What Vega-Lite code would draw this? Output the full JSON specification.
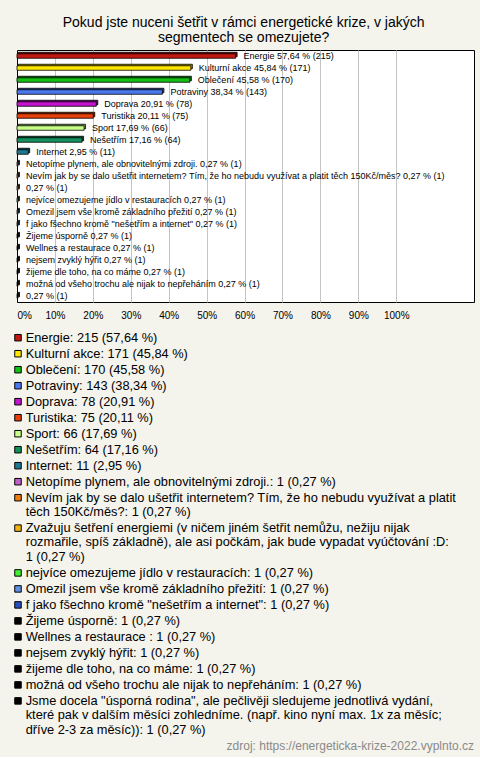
{
  "$schema": "https://vega.github.io/schema/vega-lite/v6.json",
  "background": "#f4f3ec",
  "padding": {"left": 12, "right": 11, "top": 15, "bottom": 5},
  "config": {"font": "Liberation Sans"},
  "title": {
    "text": ["Pokud jste nuceni šetřit v rámci energetické krize, v jakých", "segmentech se omezujete?"],
    "fontSize": 14, "fontWeight": "normal", "font": "Liberation Sans", "color": "#000000",
    "anchor": "middle", "lineHeight": 15, "offset": 5
  },
  "data": {"values": [
    {"name": "Energie", "count": 215, "pct": 0.5764},
    {"name": "Kulturní akce", "count": 171, "pct": 0.4584},
    {"name": "Oblečení", "count": 170, "pct": 0.4558},
    {"name": "Potraviny", "count": 143, "pct": 0.3834},
    {"name": "Doprava", "count": 78, "pct": 0.2091},
    {"name": "Turistika", "count": 75, "pct": 0.2011},
    {"name": "Sport", "count": 66, "pct": 0.1769},
    {"name": "Nešetřím", "count": 64, "pct": 0.1716},
    {"name": "Internet", "count": 11, "pct": 0.0295},
    {"name": "Netopíme plynem, ale obnovitelnými zdroji.", "count": 1, "pct": 0.0027},
    {"name": "Nevím jak by se dalo ušetřit internetem? Tím, že ho nebudu využívat a platit\ntěch 150Kč/měs?", "count": 1, "pct": 0.0027},
    {"name": "Zvažuju šetření energiemi (v ničem jiném šetřit nemůžu, nežiju nijak\nrozmařile, spíš základně), ale asi počkám, jak bude vypadat vyúčtování :D", "count": 1, "pct": 0.0027},
    {"name": "nejvíce omezujeme jídlo v restauracích", "count": 1, "pct": 0.0027},
    {"name": "Omezil jsem vše kromě základního přežití", "count": 1, "pct": 0.0027},
    {"name": "f jako fšechno kromě \"nešetřím a internet\"", "count": 1, "pct": 0.0027},
    {"name": "Žijeme úsporně", "count": 1, "pct": 0.0027},
    {"name": "Wellnes a restaurace ", "count": 1, "pct": 0.0027},
    {"name": "nejsem zvyklý hýřit", "count": 1, "pct": 0.0027},
    {"name": "žijeme dle toho, na co máme", "count": 1, "pct": 0.0027},
    {"name": "možná od všeho trochu ale nijak to nepřeháním", "count": 1, "pct": 0.0027},
    {"name": "Jsme docela \"úsporná rodina\", ale pečlivěji sledujeme jednotlivá vydání,\nkteré pak v dalším měsíci zohledníme. (např. kino nyní max. 1x za měsíc;\ndříve 2-3 za měsíc))", "count": 1, "pct": 0.0027}
  ]},
  "spacing": 6,
  "vconcat": [
    {
      "width": 457,
      "height": 252,
      "view": {"fill": "#ffffff", "stroke": "#000000", "strokeWidth": 1},
      "transform": [
        {"calculate": "replace(datum.name, /\\n/g, ' ')", "as": "flat"},
        {"calculate": "(length(datum.flat) > 100 ? '' : datum.flat + ' ') + replace(format(datum.pct * 100, '.2f'), '.', ',') + ' % (' + datum.count + ')'", "as": "barText"}
      ],
      "encoding": {
        "y": {"field": "name", "type": "nominal", "sort": null, "axis": null,
              "scale": {"paddingInner": 0, "paddingOuter": 0}},
        "x": {"field": "pct", "type": "quantitative",
              "scale": {"domain": [0, 1.205], "nice": false, "zero": true},
              "axis": {
                "values": [0, 0.1, 0.2, 0.3, 0.4, 0.5, 0.6, 0.7, 0.8, 0.9, 1.0],
                "format": ".0%", "title": null, "domain": false, "ticks": false,
                "labelFontSize": 10, "labelPadding": 8, "labelColor": "#000000",
                "grid": true, "gridColor": "#c4c4c4",
                "gridOpacity": {"condition": {"test": "datum.value === 0", "value": 0}, "value": 1}
              }}
      },
      "layer": [
        {
          "mark": {"type": "bar", "height": 4.5, "xOffset": 1.5, "x2Offset": 1.5, "yOffset": -1.5,
                   "stroke": "#000000", "strokeWidth": 0.8},
          "encoding": {"color": {"field": "name", "type": "nominal", "sort": null, "legend": null,
            "scale": {"range": ["#c4170f", "#ffe600", "#14c014", "#4a78f0", "#c414d0", "#e8400c", "#c8ff88", "#14905c", "#1e7890", "#c060c8", "#f07c10", "#f0b414", "#44ee30", "#6090e0", "#2850c0", "#000000", "#000000", "#000000", "#000000", "#000000", "#000000", "#000000"]}}}
        },
        {
          "mark": {"type": "bar", "height": 4.5, "xOffset": 1.5, "x2Offset": 1.5, "yOffset": -1.5,
                   "color": "#000000", "opacity": 0.35}
        },
        {
          "mark": {"type": "bar", "height": 4.5, "stroke": "#000000", "strokeWidth": 0.8},
          "encoding": {"color": {"field": "name", "type": "nominal", "sort": null, "legend": null,
            "scale": {"range": ["#c4170f", "#ffe600", "#14c014", "#4a78f0", "#c414d0", "#e8400c", "#c8ff88", "#14905c", "#1e7890", "#c060c8", "#f07c10", "#f0b414", "#44ee30", "#6090e0", "#2850c0", "#000000", "#000000", "#000000", "#000000", "#000000", "#000000", "#000000"]}}}
        },
        {
          "mark": {"type": "text", "align": "left", "baseline": "middle", "dx": 8, "fontSize": 9, "color": "#000000"},
          "encoding": {"text": {"field": "barText"}}
        }
      ]
    },
    {
      "width": 457,
      "height": 402,
      "view": {"stroke": null},
      "title": {"text": "zdroj: https://energeticka-krize-2022.vyplnto.cz", "orient": "bottom", "anchor": "end",
                "fontSize": 12, "fontWeight": "normal", "color": "#8a8a8a", "offset": 4},
      "transform": [
        {"calculate": "replace(format(datum.pct * 100, '.2f'), '.', ',')", "as": "pctText"},
        {"calculate": "datum.name + ':' + (length(peek(split(datum.name, '\\n'))) > 60 ? '\\n' : ' ') + datum.count + ' (' + datum.pctText + ' %)'", "as": "legendText"},
        {"calculate": "length(split(datum.legendText, '\\n')) * 14.4 + 1.6", "as": "h"},
        {"window": [{"op": "sum", "field": "h", "as": "cum"}], "frame": [null, 0]},
        {"calculate": "datum.cum - datum.h", "as": "pos"}
      ],
      "encoding": {
        "y": {"field": "pos", "type": "quantitative", "axis": null,
              "scale": {"domain": [-4.7, 397.3], "reverse": true, "nice": false, "zero": false}}
      },
      "layer": [
        {
          "mark": {"type": "square", "size": 42, "filled": true, "opacity": 1, "stroke": "#000000", "strokeWidth": 1, "x": 1, "yOffset": 6},
          "encoding": {"color": {"field": "name", "type": "nominal", "sort": null, "legend": null,
            "scale": {"range": ["#c4170f", "#ffe600", "#14c014", "#4a78f0", "#c414d0", "#e8400c", "#c8ff88", "#14905c", "#1e7890", "#c060c8", "#f07c10", "#f0b414", "#44ee30", "#6090e0", "#2850c0", "#000000", "#000000", "#000000", "#000000", "#000000", "#000000", "#000000"]}}}
        },
        {
          "mark": {"type": "text", "align": "left", "baseline": "top", "x": 8.7, "fontSize": 12.8, "lineHeight": 14.4, "lineBreak": "\n", "color": "#000000"},
          "encoding": {"text": {"field": "legendText"}}
        }
      ]
    }
  ]
}
